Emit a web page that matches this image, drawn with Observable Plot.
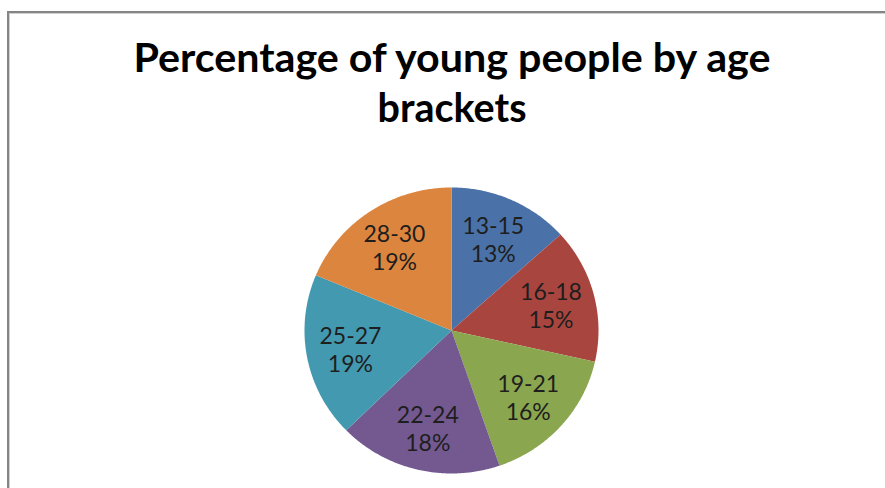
<!DOCTYPE html>
<html>
<head>
<meta charset="utf-8">
<script src="https://cdn.jsdelivr.net/npm/d3@7"></script>
<script src="https://cdn.jsdelivr.net/npm/@observablehq/plot@0.6"></script>
<style>
  html, body { margin: 0; padding: 0; background: #fff; }
  #wrap { position: relative; width: 885px; height: 488px; overflow: hidden; background: #fff; }
  #frame { position: absolute; left: 7px; top: 11px; width: 900px; height: 500px;
           border-left: 2px solid #858585; border-top: 2px solid #858585; box-sizing: border-box; }
  #frame2 { position: absolute; left: 9px; top: 13px; width: 900px; height: 500px;
           border-left: 1px solid #d0d0d0; border-top: 1px solid #d0d0d0; box-sizing: border-box; }
  #chart { position: absolute; left: 0; top: 0; }
  #title { position: absolute; left: 0; top: 0; }
</style>
</head>
<body>
<div id="wrap">
  <div id="frame"></div>
  <div id="frame2"></div>
  <div id="chart"></div>
  <svg id="title" width="885" height="140"></svg>
</div>
<script>
const titleLines = ["Percentage of young people by age", "brackets"];
const ages = ["13-15", "16-18", "19-21", "22-24", "25-27", "28-30"];
const shares = [13.3, 15.2, 16.2, 18.0, 18.6, 18.7];
const percentLabels = ["13%", "15%", "16%", "18%", "19%", "19%"];
const colors = ["#4A72A8", "#A9453F", "#8AA64F", "#735990", "#4399B0", "#DC853E"];

const FONT = "Lato, 'Open Sans', sans-serif";

// pie geometry from the data
const arcs = d3.pie().sort(null).value(d => d)(shares);
const slicePts = [];
arcs.forEach((a, i) => {
  slicePts.push({age: ages[i], x: 0, y: 0});
  const n = Math.max(2, Math.ceil((a.endAngle - a.startAngle) / 0.01));
  for (let k = 0; k <= n; k++) {
    const t = a.startAngle + (a.endAngle - a.startAngle) * k / n;
    slicePts.push({age: ages[i], x: Math.sin(t), y: Math.cos(t)});
  }
  slicePts.push({age: ages[i], x: 0, y: 0});
});
const labelR = 0.7;
const labels = arcs.map((a, i) => {
  const m = (a.startAngle + a.endAngle) / 2;
  return {text: ages[i] + "\n" + percentLabels[i], x: labelR * Math.sin(m), y: labelR * Math.cos(m)};
});

const plot = Plot.plot({
  width: 885,
  height: 488,
  marginLeft: 304,
  marginRight: 287,
  marginTop: 187,
  marginBottom: 15,
  x: {domain: [-1, 1], axis: null},
  y: {domain: [-1, 1], axis: null},
  color: {domain: ages, range: colors},
  style: {background: "transparent", fontFamily: FONT},
  marks: [
    Plot.line(slicePts, {x: "x", y: "y", z: "age", fill: "age", stroke: "none", curve: "linear"}),
    Plot.text(labels, {x: "x", y: "y", text: "text", fontSize: 23, lineHeight: 1.22, fill: "#1e1e1e"})
  ]
});
document.getElementById("chart").appendChild(plot);

// title
const titleWidths = [637, 149];
const tsvg = d3.select("#title");
tsvg.selectAll("text").data(titleLines).join("text")
  .attr("x", 452)
  .attr("y", (d, i) => 72 + i * 50)
  .attr("text-anchor", "middle")
  .attr("font-family", FONT)
  .attr("font-weight", "bold")
  .attr("font-size", 40)
  .attr("textLength", (d, i) => titleWidths[i])
  .attr("lengthAdjust", "spacingAndGlyphs")
  .attr("fill", "#000")
  .text(d => d);
</script>
</body>
</html>
